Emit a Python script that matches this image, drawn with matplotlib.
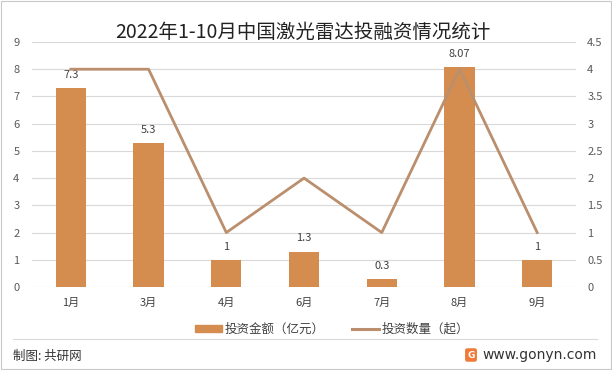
import matplotlib.pyplot as plt
from matplotlib.lines import Line2D
from matplotlib.patches import Patch

plt.rcParams['font.family'] = ['Noto Sans CJK SC', 'DejaVu Sans']

# --- data ---
months = ["1月", "3月", "4月", "6月", "7月", "8月", "9月"]
amount = [7.3, 5.3, 1, 1.3, 0.3, 8.07, 1]
amount_labels = ["7.3", "5.3", "1", "1.3", "0.3", "8.07", "1"]
count = [4, 4, 1, 2, 1, 4, 1]
left_ticks = list(range(0, 10))
right_ticks = [0, 0.5, 1, 1.5, 2, 2.5, 3, 3.5, 4, 4.5]
right_tick_labels = ["0", "0.5", "1", "1.5", "2", "2.5", "3", "3.5", "4", "4.5"]

bar_color = "#D58D4F"
line_color = "#BB8F6D"

fig = plt.figure(figsize=(6.12, 3.70), dpi=100)
ax = fig.add_axes([0.0523, 0.2243, 0.889, 0.6622])
ax2 = ax.twinx()

x = list(range(len(months)))
ax.bar(x, amount, width=0.39, color=bar_color, zorder=2)
for xi, v, lab in zip(x, amount, amount_labels):
    ax.text(xi, v + 0.3, lab, ha="center", va="bottom", fontsize=8, color="#404040")

ax2.plot(x, count, color=line_color, linewidth=2.0, zorder=3)

ax.set_xlim(-0.5, len(months) - 0.5)
ax.set_ylim(0, 9)
ax2.set_ylim(0, 4.5)
ax.set_yticks(left_ticks)
ax2.set_yticks(right_ticks)
ax2.set_yticklabels(right_tick_labels)
ax.set_xticks(x)
ax.set_xticklabels(months)

ax.grid(axis="y", color="#D9D9D9", linewidth=0.8, zorder=0)
ax.set_axisbelow(True)
for a in (ax, ax2):
    for s in a.spines.values():
        s.set_visible(False)
    a.tick_params(length=0, labelsize=8, colors="#595959")
ax.tick_params(axis="y", pad=9)
ax.tick_params(axis="x", pad=8, colors="#404040")
ax2.tick_params(axis="y", pad=8)

fig.text(0.495, 0.913, "2022年1-10月中国激光雷达投融资情况统计", ha="center", va="center",
         fontsize=14, color="#222222")

handles = [Patch(color=bar_color, label="投资金额（亿元）"),
           Line2D([0], [0], color=line_color, linewidth=2.2, label="投资数量（起）")]
fig.legend(handles=handles, loc="center", bbox_to_anchor=(0.543, 0.11), ncol=2, frameon=False,
           fontsize=9, handlelength=2.1, handleheight=0.55, columnspacing=2.2,
           handletextpad=0.25, labelcolor="#404040")

# footer
fig.add_artist(Line2D([13 / 612, 597 / 612], [1 - 339 / 370, 1 - 339 / 370],
                      color="#D9D9D9", linewidth=0.8))
fig.text(13 / 612, 1 - 356 / 370, "制图: 共研网", ha="left", va="center", fontsize=9,
         color="#333333")
fig.text(597 / 612, 1 - 355 / 370, "www.gonyn.com", ha="right", va="center", fontsize=10,
         color="#333333", family="DejaVu Sans")
fig.text(471 / 612, 1 - 355 / 370, "G", ha="center", va="center", fontsize=6.5, color="white",
         fontweight="bold", family="DejaVu Sans",
         bbox=dict(boxstyle="round,pad=0.25", facecolor="#F07A3A", edgecolor="none"))

# outer border
fig.add_artist(plt.Rectangle((0.002, 0.003), 0.996, 0.994, fill=False, edgecolor="#C8C8C8",
                             linewidth=0.8, transform=fig.transFigure))

fig.savefig("out.png", dpi=100)
